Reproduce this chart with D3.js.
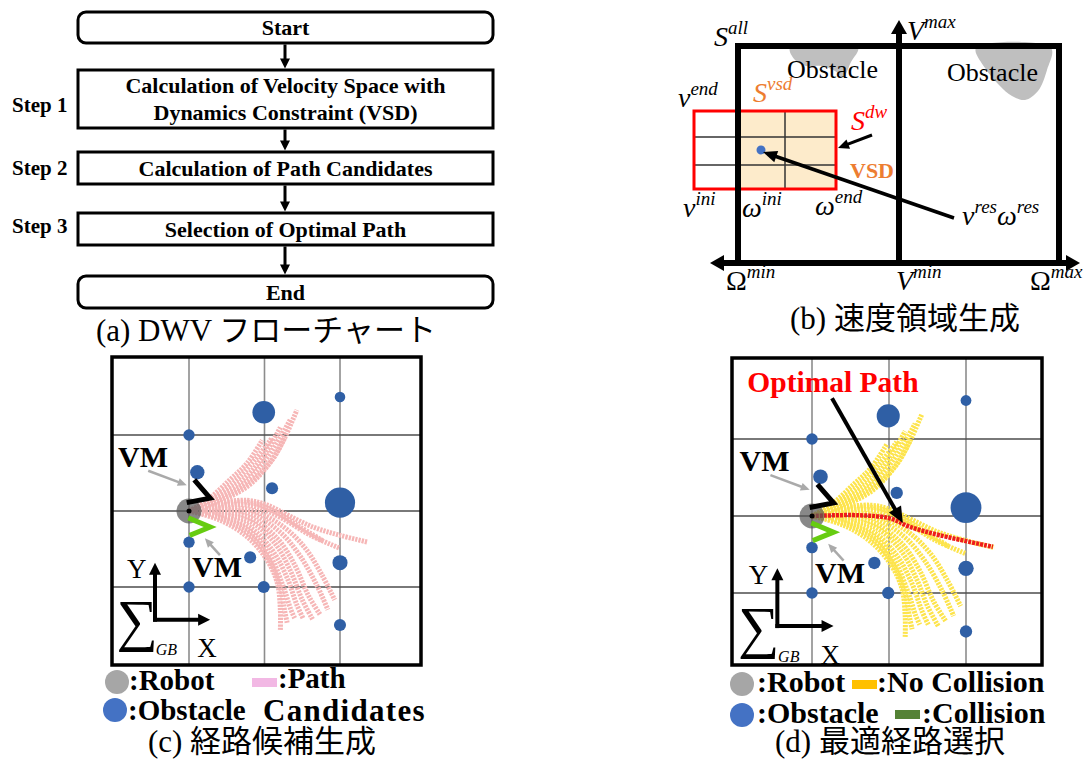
<!DOCTYPE html>
<html lang="ja">
<head>
<meta charset="UTF-8">
<title>DWV overview</title>
<script src="https://d3js.org/d3.v7.min.js"></script>
<style>
  body { margin: 0; background: #fff; }
  text { font-family: "Liberation Serif", "Noto Sans CJK JP", serif; fill: #000; }
  .b { font-weight: bold; }
  .cap { font-size: 31px; }
  .m { font-style: italic; font-size: 28px; }
  .sup { font-size: 19px; }
</style>
</head>
<body>
<svg id="fig" width="1091" height="761"></svg>
<script>
// ---- data ----
// (a) flowchart
const flowBoxes = [
	["Start"],
	["Calculation of Velocity Space with", "Dynamics Constraint (VSD)"],
	["Calculation of Path Candidates"],
	["Selection of Optimal Path"],
	["End"]
];
const stepLabels = ["", "Step 1", "Step 2", "Step 3", ""];

// (b) labels: [base, sup, upright]
const mathLabels = [
	["S", "all"], ["V", "max"], ["v", "end"], ["v", "ini"], ["ω", "ini"], ["ω", "end"],
	["Ω", "min", true], ["V", "min"], ["Ω", "max", true]
];

// (c)(d) world coords (cm), robot at origin, X right, Y up
const gridX = [0, 100, 200];
const gridY = [100, 0, -100];
const robot = [0, 0];
// [X, Y, radius]
const obstacles = [
	[200, 150, 7], [99, 130, 15], [0, 100, 7.5], [11, 51, 9.5], [110, 30, 8], [200, 11, 20],
	[0, -41, 7.5], [81, -61, 8], [200, -68, 10], [0, -100, 7.5], [99, -100, 8], [200, -150, 8]
];
const vmUpper = [[-3, 11], [28, 17], [7, 41]];
const vmLower = [[-1, -9], [28, -21], [1, -32]];
const upperPaths = [
	[[0, 0], [24, 14], [54, 41], [77, 63], [97, 93]],
	[[0, 0], [28, 14], [61, 39], [87, 67], [110, 96]],
	[[0, 0], [30, 13], [68, 38], [97, 70], [121, 110]],
	[[0, 0], [33, 12], [73, 36], [105, 72], [134, 120]],
	[[0, 0], [36, 11], [77, 32], [103, 58], [123, 89], [143, 133]],
	[[0, 0], [32, 11], [75, 33], [110, 67], [127, 97]]
];
const lowerPaths = [
	[[0, 0], [28, 9], [77, 14], [103, 8], [130, -5], [164, -21], [200, -32], [237, -41]],
	[[0, 0], [30, 8], [81, 11], [114, -1], [147, -21], [177, -39]],
	[[0, 0], [32, 7], [83, 7], [122, -9], [161, -32], [200, -49]],
	[[0, 0], [33, 4], [83, 1], [124, -20], [154, -49], [176, -84], [193, -117]],
	[[0, 0], [34, 3], [83, -4], [121, -28], [147, -59], [169, -97], [184, -130]],
	[[0, 0], [36, 0], [81, -9], [117, -36], [140, -71], [158, -111], [174, -137]],
	[[0, 0], [36, -3], [81, -14], [114, -43], [135, -80], [150, -117], [164, -143]],
	[[0, 0], [37, -4], [79, -20], [110, -51], [130, -88], [143, -124], [151, -141]],
	[[0, 0], [38, -7], [78, -25], [107, -58], [124, -97], [135, -130], [140, -141]],
	[[0, 0], [40, -9], [78, -29], [105, -62], [121, -101], [127, -133], [130, -147]],
	[[0, 0], [41, -12], [77, -34], [103, -64], [117, -95], [121, -130], [121, -157]]
];
const optimalPath = [[0, 0], [60, 1], [101, -3], [127, -14], [166, -25], [235, -40]];

const legendC = [["circle", "#a6a6a6", ":Robot"], ["rect", "#f2b8e4", ":Path"], ["circle", "#4472c4", ":Obstacle"], ["none", "", "Candidates"]];
const legendD = [["circle", "#a6a6a6", ":Robot"], ["rect", "#ffc000", ":No Collision"], ["circle", "#4472c4", ":Obstacle"], ["rect", "#548235", ":Collision"]];
const captions = ["(a) DWV フローチャート", "(b) 速度領域生成", "(c) 経路候補生成", "(d) 最適経路選択"];

// ---- drawing ----
const svg = d3.select("#fig");

function arrow(g, x1, y1, x2, y2, color, w, hl, hw) {
	const a = Math.atan2(y2 - y1, x2 - x1), c = Math.cos(a), s = Math.sin(a);
	const bx = x2 - hl * c, by = y2 - hl * s;
	g.append("line").attr("x1", x1).attr("y1", y1).attr("x2", bx + c).attr("y2", by + s)
		.attr("stroke", color).attr("stroke-width", w);
	g.append("path")
		.attr("d", `M${x2},${y2}L${bx - hw / 2 * s},${by + hw / 2 * c}L${bx + hw / 2 * s},${by - hw / 2 * c}Z`)
		.attr("fill", color);
}

function mathText(g, x, y, parts, color) {
	// parts: [base, sup, upright]
	const t = g.append("text").attr("class", "m").attr("x", x).attr("y", y);
	if (color) t.style("fill", color);
	parts.forEach((pt, i) => {
		t.append("tspan").attr("dy", i ? 12 : 0).style("font-style", pt[2] ? "normal" : "italic").text(pt[0]);
		t.append("tspan").attr("class", "sup").attr("dy", -12).text(pt[1]);
	});
}

// (a) flowchart
const ga = svg.append("g");
const boxTop = [12, 70, 152, 213, 276], boxBot = [43, 128, 184, 245, 308];
const stepBase = [0, 112, 175, 233, 0];
const bx0 = 78, bx1 = 493, cx = (bx0 + bx1) / 2;
flowBoxes.forEach((lines, i) => {
	const rounded = i === 0 || i === flowBoxes.length - 1;
	ga.append("rect").attr("x", bx0).attr("y", boxTop[i]).attr("width", bx1 - bx0)
		.attr("height", boxBot[i] - boxTop[i]).attr("rx", rounded ? 8 : 0)
		.attr("fill", "#fff").attr("stroke", "#000").attr("stroke-width", 3);
	const mid = (boxTop[i] + boxBot[i]) / 2;
	lines.forEach((t, k) => {
		ga.append("text").attr("class", "b").attr("x", cx)
			.attr("y", mid + 7.5 + (k - (lines.length - 1) / 2) * 27)
			.attr("text-anchor", "middle").attr("font-size", 22).text(t);
	});
	if (stepLabels[i]) {
		ga.append("text").attr("class", "b").attr("x", 12).attr("y", stepBase[i])
			.attr("font-size", 21).text(stepLabels[i]);
	}
	if (i < flowBoxes.length - 1) arrow(ga, 285, boxBot[i] + 1.5, 285, boxTop[i + 1] - 1.5, "#000", 3, 10, 10);
});
ga.append("text").attr("class", "cap").attr("x", 266).attr("y", 341).attr("text-anchor", "middle").text(captions[0]);

// (b) velocity space
const gb = svg.append("g");
const blob = d3.line().curve(d3.curveCatmullRomClosed);
gb.append("path").attr("d", blob([[790, 48], [858, 48], [851, 62], [843, 77], [835, 71], [822, 66], [806, 66], [795, 60]])).attr("fill", "#bfbfbf");
gb.append("path").attr("d", blob([[976, 48], [1051, 48], [1047, 70], [1038, 91], [1025, 100], [1012, 96], [1000, 86], [985, 68]])).attr("fill", "#bfbfbf");
gb.append("text").attr("x", 787).attr("y", 78).attr("font-size", 26).text("Obstacle");
gb.append("text").attr("x", 947).attr("y", 81).attr("font-size", 26).text("Obstacle");
// dynamic window
gb.append("rect").attr("x", 738).attr("y", 111).attr("width", 98).attr("height", 78).attr("fill", "#fdebcb");
[137, 165].forEach(yy => gb.append("line").attr("x1", 694).attr("x2", 836).attr("y1", yy).attr("y2", yy).attr("stroke", "#333").attr("stroke-width", 1.5));
gb.append("line").attr("x1", 785).attr("x2", 785).attr("y1", 111).attr("y2", 189).attr("stroke", "#333").attr("stroke-width", 1.5);
gb.append("rect").attr("x", 694).attr("y", 111).attr("width", 142).attr("height", 78).attr("fill", "none").attr("stroke", "#ff0000").attr("stroke-width", 3);
// frame
gb.append("path").attr("d", "M738,263V46H1059V263").attr("fill", "none").attr("stroke", "#000").attr("stroke-width", 6);
arrow(gb, 899, 263, 899, 20, "#000", 6, 14, 16);
arrow(gb, 899, 263, 710, 263, "#000", 6, 14, 16);
arrow(gb, 899, 263, 1080, 263, "#000", 6, 14, 16);
gb.append("circle").attr("cx", 761).attr("cy", 150).attr("r", 4.5).attr("fill", "#4472c4");
arrow(gb, 954, 218, 763, 152, "#000", 3.5, 14, 12);
arrow(gb, 872, 135, 838, 148, "#000", 3, 11, 10);
const mathPos = [[714, 46], [907, 40], [678, 107], [683, 217], [742, 217], [815, 215], [726, 290], [896, 290], [1030, 290]];
mathLabels.forEach((l, i) => mathText(gb, mathPos[i][0], mathPos[i][1], [l]));
mathText(gb, 962, 225, [["v", "res"], ["ω", "res"]]);
mathText(gb, 753, 102, [["S", "vsd"]], "#ed7d31");
mathText(gb, 851, 130, [["S", "dw"]], "#ff0000");
gb.append("text").attr("class", "b").attr("x", 850).attr("y", 178).attr("font-size", 22).style("fill", "#ed7d31").text("VSD");
gb.append("text").attr("class", "cap").attr("x", 905).attr("y", 329).attr("text-anchor", "middle").text(captions[1]);

// (c)(d) path panels
const panels = [
	{rect: [112, 357, 421, 665], xr: [189, 340], yr: [435, 587], color: "#f6b6b6", legend: legendC, cap: captions[2], capX: 262, optimal: false},
	{rect: [732, 358, 1042, 665], xr: [812, 966], yr: [439, 593], color: "#fde44c", legend: legendD, cap: captions[3], capX: 890, optimal: true}
];

panels.forEach(p => {
	const x = d3.scaleLinear().domain([0, 200]).range(p.xr);
	const y = d3.scaleLinear().domain([100, -100]).range(p.yr);
	const k = (p.xr[1] - p.xr[0]) / 200;
	const g = svg.append("g");
	const [rx0, ry0, rx1, ry1] = p.rect;

	g.selectAll(".gx").data(gridX).join("line")
		.attr("x1", d => x(d)).attr("x2", d => x(d)).attr("y1", ry0).attr("y2", ry1)
		.attr("stroke", "#8c8c8c").attr("stroke-width", 1.6);
	g.selectAll(".gy").data(gridY).join("line")
		.attr("y1", d => y(d)).attr("y2", d => y(d)).attr("x1", rx0).attr("x2", rx1)
		.attr("stroke", "#4d4d4d").attr("stroke-width", 1.6);

	const line = d3.line().x(d => x(d[0])).y(d => y(d[1])).curve(d3.curveCatmullRom);
	g.selectAll(".cand").data(upperPaths.concat(lowerPaths)).join("path")
		.attr("d", line).attr("fill", "none").attr("stroke", p.color)
		.attr("stroke-width", 5).attr("stroke-dasharray", "2.2 1.1");

	if (p.optimal) {
		g.append("path").attr("d", line(optimalPath)).attr("fill", "none")
			.attr("stroke", "#ee1c1c").attr("stroke-width", 4.5).attr("stroke-dasharray", "3 1");
	}

	g.selectAll(".obs").data(obstacles).join("circle")
		.attr("cx", d => x(d[0])).attr("cy", d => y(d[1])).attr("r", d => d[2] * k)
		.attr("fill", "#2f5fa5");

	g.append("circle").attr("cx", x(robot[0])).attr("cy", y(robot[1])).attr("r", 12.5)
		.attr("fill", "#555").attr("opacity", 0.7);
	g.append("circle").attr("cx", x(robot[0])).attr("cy", y(robot[1])).attr("r", 2.5).attr("fill", "#000");

	const vm = d3.line().x(d => x(d[0])).y(d => y(d[1]));
	g.append("path").attr("d", vm(vmUpper)).attr("fill", "none").attr("stroke", "#000")
		.attr("stroke-width", 5).attr("stroke-linejoin", "miter");
	g.append("path").attr("d", vm(vmLower)).attr("fill", "none").attr("stroke", "#66cc11")
		.attr("stroke-width", 5).attr("stroke-linejoin", "miter");

	arrow(g, x(-54), y(53), x(-3), y(34), "#aaa", 2.5, 9, 8);
	arrow(g, x(41), y(-58), x(21), y(-36), "#aaa", 2.5, 9, 8);
	g.append("text").attr("class", "b").attr("x", x(-94)).attr("y", y(58)).attr("font-size", 30).text("VM");
	g.append("text").attr("class", "b").attr("x", x(4)).attr("y", y(-87)).attr("font-size", 30).text("VM");

	// coordinate frame
	arrow(g, x(-45), y(-143) + 2, x(-45), y(-68), "#000", 4, 12, 12);
	arrow(g, x(-45) - 2, y(-143), x(28), y(-143), "#000", 4, 12, 12);
	g.append("text").attr("x", x(-82)).attr("y", y(-88)).attr("font-size", 27).text("Y");
	g.append("text").attr("x", x(11)).attr("y", y(-192)).attr("font-size", 27).text("X");
	g.append("text").attr("x", x(-96)).attr("y", y(-170)).attr("font-size", 58).text("∑");
	g.append("text").attr("x", x(-44)).attr("y", y(-189)).attr("font-size", 16).style("font-style", "italic").text("GB");

	if (p.optimal) {
		g.append("text").attr("class", "b").attr("x", x(-84)).attr("y", y(161)).attr("font-size", 29.5)
			.style("fill", "#ff0000").text("Optimal Path");
		arrow(g, x(26), y(153), x(118), y(-9), "#000", 4, 16, 14);
	}

	g.append("rect").attr("x", rx0).attr("y", ry0).attr("width", rx1 - rx0).attr("height", ry1 - ry0)
		.attr("fill", "none").attr("stroke", "#000").attr("stroke-width", 3.5);

	// legend
	const lx = rx0 - 6;
	const lpos = p.optimal
		? [[lx + 16, 684, 757, 692], [852, 680, 877, 692], [lx + 16, 715, 757, 723], [895, 710, 922, 723]]
		: [[lx + 11, 682, 129, 690], [252, 678, 278, 688], [lx + 9, 710, 128, 720], [0, 0, 263, 721]];
	p.legend.forEach((l, i) => {
		const [mx, my, tx, ty] = lpos[i];
		if (l[0] === "circle") g.append("circle").attr("cx", mx).attr("cy", my).attr("r", 12).attr("fill", l[1]);
		if (l[0] === "rect") g.append("rect").attr("x", mx).attr("y", my).attr("width", 25).attr("height", 9).attr("fill", l[1]);
		g.append("text").attr("class", "b").attr("x", tx).attr("y", ty)
			.attr("font-size", p.optimal ? 30 : (l[0] === "none" ? 31 : 29))
			.attr("letter-spacing", l[0] === "none" ? 1.3 : 0).text(l[2]);
	});
	g.append("text").attr("class", "cap").attr("x", p.capX).attr("y", 752).attr("text-anchor", "middle").text(p.cap);
});
</script>
</body>
</html>
